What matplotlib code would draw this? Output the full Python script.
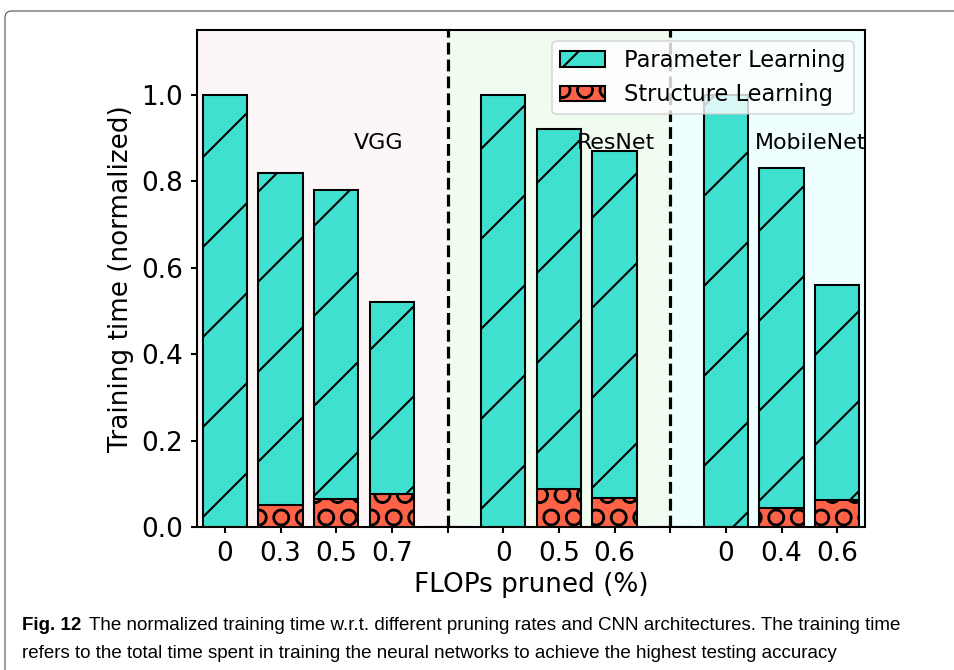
import matplotlib
matplotlib.use("Agg")
import matplotlib.pyplot as plt
from matplotlib.patches import FancyBboxPatch
import numpy as np

# ---------------------------------
# Data
# ---------------------------------
tick_labels = ["0", "0.3", "0.5", "0.7", "", "0", "0.5", "0.6", "", "0", "0.4", "0.6"]
total_time = [1.0, 0.82, 0.78, 0.52, 0.0, 1.0, 0.92, 0.87, 0.0, 1.0, 0.83, 0.56]
structure_time = [0.0, 0.05, 0.065, 0.077, 0.0, 0.0, 0.088, 0.068, 0.0, 0.0, 0.045, 0.063]
parameter_time = [t - s for t, s in zip(total_time, structure_time)]

groups = ["VGG", "ResNet", "MobileNet"]
group_spans = [(-0.5, 4), (4, 8), (8, 11.5)]
group_colors = ["#fdf6f6", "#effcef", "#effefe"]
group_label_x = [2.77, 7.03, 10.52]
dividers = [4, 8]

# high dpi so the hatch spacing matches the (upscaled) reference
DPI = 270
plt.rcParams["hatch.linewidth"] = 0.55
plt.rcParams["font.family"] = "DejaVu Sans"

fig = plt.figure(figsize=(954 / DPI, 670 / DPI), dpi=DPI)
ax = fig.add_axes([197 / 954, 1 - 527 / 670, (865 - 197) / 954, (527 - 30) / 670])

x = np.arange(len(tick_labels))

for (x0, x1), c in zip(group_spans, group_colors):
    ax.axvspan(x0, x1, color=c, lw=0, zorder=0)
for d in dividers:
    ax.axvline(d, color="black", ls="--", lw=0.85, zorder=1)

ax.bar(x, structure_time, width=0.8, color="tomato", edgecolor="black",
       lw=0.55, hatch="OO", label="Structure Learning", zorder=2)
ax.bar(x, parameter_time, width=0.8, bottom=structure_time, color="turquoise",
       edgecolor="black", lw=0.55, hatch="/", label="Parameter Learning", zorder=2)

for name, gx in zip(groups, group_label_x):
    ax.text(gx, 0.889, name, ha="center", va="center", fontsize=5.9, zorder=3)

ax.set_xlim(-0.5, 11.5)
ax.set_ylim(0, 1.15)
ax.set_xticks(x)
ax.set_xticklabels(tick_labels)
ax.set_yticks([0, 0.2, 0.4, 0.6, 0.8, 1.0])
ax.tick_params(labelsize=7, length=1.7, width=0.55, pad=2)
for s in ax.spines.values():
    s.set_linewidth(0.55)
ax.set_xlabel("FLOPs pruned (%)", fontsize=7, labelpad=1.5)
ax.set_ylabel("Training time (normalized)", fontsize=7, labelpad=2)

h, l = ax.get_legend_handles_labels()
leg = ax.legend(h[::-1], l[::-1], loc="upper right", fontsize=6.0, framealpha=0.8,
                borderpad=0.35, handletextpad=0.85)
leg.get_frame().set_linewidth(0.4)
leg.set_zorder(5)

# ---------------------------------
# Journal frame and caption
# ---------------------------------
frame = FancyBboxPatch((5 / DPI, -1), 10, (670 - 11) / DPI + 1,
                       boxstyle="round,pad=0,rounding_size=0.025",
                       transform=fig.dpi_scale_trans, fill=False,
                       edgecolor="#555555", lw=0.3)
fig.add_artist(frame)

cap_font = ["Liberation Sans Narrow", "Liberation Sans", "DejaVu Sans"]
cap_size = 5.0
y1 = 1 - 626 / 670
y2 = 1 - 654 / 670
t_bold = fig.text(22 / 954, y1, "Fig. 12", fontsize=cap_size, fontweight="bold",
                  family=cap_font, va="center")
fig.canvas.draw()
bb = t_bold.get_window_extent()
fig.text(bb.x1 / fig.bbox.width + 8 / 954, y1,
         "The normalized training time w.r.t. different pruning rates and CNN architectures. The training time",
         fontsize=cap_size, family=cap_font, va="center")
fig.text(22 / 954, y2,
         "refers to the total time spent in training the neural networks to achieve the highest testing accuracy",
         fontsize=cap_size, family=cap_font, va="center")

fig.savefig("out.png", dpi=DPI)
